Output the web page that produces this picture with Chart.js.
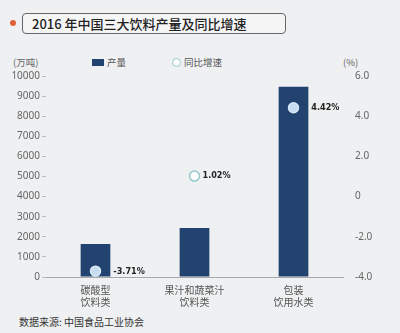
<!DOCTYPE html>
<html>
<head>
<meta charset="utf-8">
<script src="https://cdn.jsdelivr.net/npm/chart.js@4/dist/chart.umd.min.js"></script>
<style>
  html, body { margin: 0; padding: 0; }
  body { width: 400px; height: 333px; background: #eff0f2; position: relative; overflow: hidden;
         font-family: "Noto Sans CJK SC", "Noto Sans", sans-serif; }
  #chart { position: absolute; left: 0; top: 0; }
  .dot { position: absolute; left: 10px; top: 20px; width: 6px; height: 6px; border-radius: 50%; background: #e0603a; }
  .title { position: absolute; left: 22px; top: 13px; width: 253px; height: 19px; border: 1px solid #666;
           border-radius: 4px; background: #f5f5f6; font-size: 13px; font-weight: 500; color: #222;
           line-height: 19px; padding-left: 9px; box-sizing: content-box; white-space: nowrap; }
  .unit { position: absolute; top: 55px; font-size: 9.5px; color: #666; }
  .legend { position: absolute; top: 55px; font-size: 9.5px; color: #555; white-space: nowrap; }
  .sq { display: inline-block; width: 12px; height: 7px; background: #22436f; vertical-align: middle; margin-right: 3px; position: relative; top: -1px; }
  .ring { display: inline-block; width: 7px; height: 7px; border: 1.5px solid #93c8cc; border-radius: 50%; background: #fff; vertical-align: middle; margin-right: 3px; position: relative; top: -1px; }
  .source { position: absolute; left: 19px; top: 314px; font-size: 10px; color: #333; }
</style>
</head>
<body>
<div class="dot"></div>
<div class="title">2016 年中国三大饮料产量及同比增速</div>
<div class="unit" style="left:13px">(万吨)</div>
<div class="legend" style="left:92px"><span class="sq"></span>产量</div>
<div class="legend" style="left:172px"><span class="ring"></span>同比增速</div>
<div class="unit" style="left:343px">(%)</div>
<div class="source">数据来源: 中国食品工业协会</div>
<canvas id="chart" width="400" height="333"></canvas>
<script>
// data
const categories = [['碳酸型', '饮料类'], ['果汁和蔬菜汁', '饮料类'], ['包装', '饮用水类']];
const output = [1640, 2440, 9470];      // 产量, 万吨
const growth = [-3.71, 1.02, 4.42];     // 同比增速, %
const leftTicks = [0, 1000, 2000, 3000, 4000, 5000, 6000, 7000, 8000, 9000, 10000];
const rightTicks = [-4, -2, 0, 2, 4, 6];

const navy = '#22436f';
const tickColor = '#666';

// is the growth point drawn on top of its bar?
function insideBar(ctx) {
    const s = ctx.chart.scales;
    if (!s.y || !s.y1) return false;
    const i = ctx.dataIndex;
    return s.y1.getPixelForValue(growth[i]) > s.y.getPixelForValue(output[i]);
}

// percent labels beside the points
const pointLabels = {
    id: 'pointLabels',
    afterDatasetsDraw(chart) {
        const c = chart.ctx;
        const bars = chart.getDatasetMeta(0).data;
        const pts = chart.getDatasetMeta(1).data;
        c.save();
        c.font = 'bold 9px "Liberation Sans Narrow", "DejaVu Sans Condensed", sans-serif';
        c.fillStyle = '#222';
        c.textBaseline = 'middle';
        pts.forEach((p, i) => {
            const b = bars[i];
            let x = p.x + 8;
            if (p.y > b.y) x = b.x + b.width / 2 + 3;
            c.fillText(growth[i].toFixed(2) + '%', x, p.y);
        });
        c.restore();
    }
};

new Chart(document.getElementById('chart'), {
    data: {
        labels: categories,
        datasets: [
            {
                type: 'bar',
                label: '产量',
                data: output,
                yAxisID: 'y',
                backgroundColor: navy,
                barPercentage: 0.3,
                categoryPercentage: 1,
                order: 2
            },
            {
                type: 'line',
                label: '同比增速',
                data: growth,
                yAxisID: 'y1',
                showLine: false,
                pointRadius: 5,
                pointBorderWidth: 1.5,
                pointBackgroundColor: ctx => insideBar(ctx) ? '#c6dcef' : '#ffffff',
                pointBorderColor: ctx => insideBar(ctx) ? '#d8e8f5' : '#93c8cc',
                order: 1
            }
        ]
    },
    options: {
        responsive: false,
        animation: false,
        layout: { padding: { top: 76, left: 0, right: 0, bottom: 0 } },
        plugins: { legend: { display: false }, tooltip: { enabled: false } },
        scales: {
            x: {
                offset: true,
                grid: { display: true, drawOnChartArea: false, drawTicks: false },
                border: { display: true, color: '#a8a8a8', width: 1 },
                ticks: { color: '#555', padding: 7, font: { family: '"Noto Sans CJK SC"', size: 10, lineHeight: 1.2 }, maxRotation: 0 },
                afterFit: s => { s.height = 56; }
            },
            y: {
                position: 'left',
                min: 0, max: 10000,
                afterBuildTicks: s => { s.ticks = leftTicks.map(v => ({ value: v })); },
                grid: { drawOnChartArea: false, drawTicks: true, tickLength: 4, color: '#bbb' },
                border: { display: false },
                ticks: { color: tickColor, padding: 2, font: { family: '"Noto Sans"', size: 10 }, callback: v => String(v) },
                afterFit: s => { s.width = 46; }
            },
            y1: {
                position: 'right',
                min: -4, max: 6,
                afterBuildTicks: s => { s.ticks = rightTicks.map(v => ({ value: v })); },
                grid: { display: false },
                border: { display: false },
                ticks: {
                    color: tickColor, padding: 4, font: { family: '"Noto Sans"', size: 10 },
                    callback: v => v === 0 ? '0' : v.toFixed(1)
                },
                afterFit: s => { s.width = 57; }
            }
        }
    },
    plugins: [pointLabels]
});
</script>
</body>
</html>
